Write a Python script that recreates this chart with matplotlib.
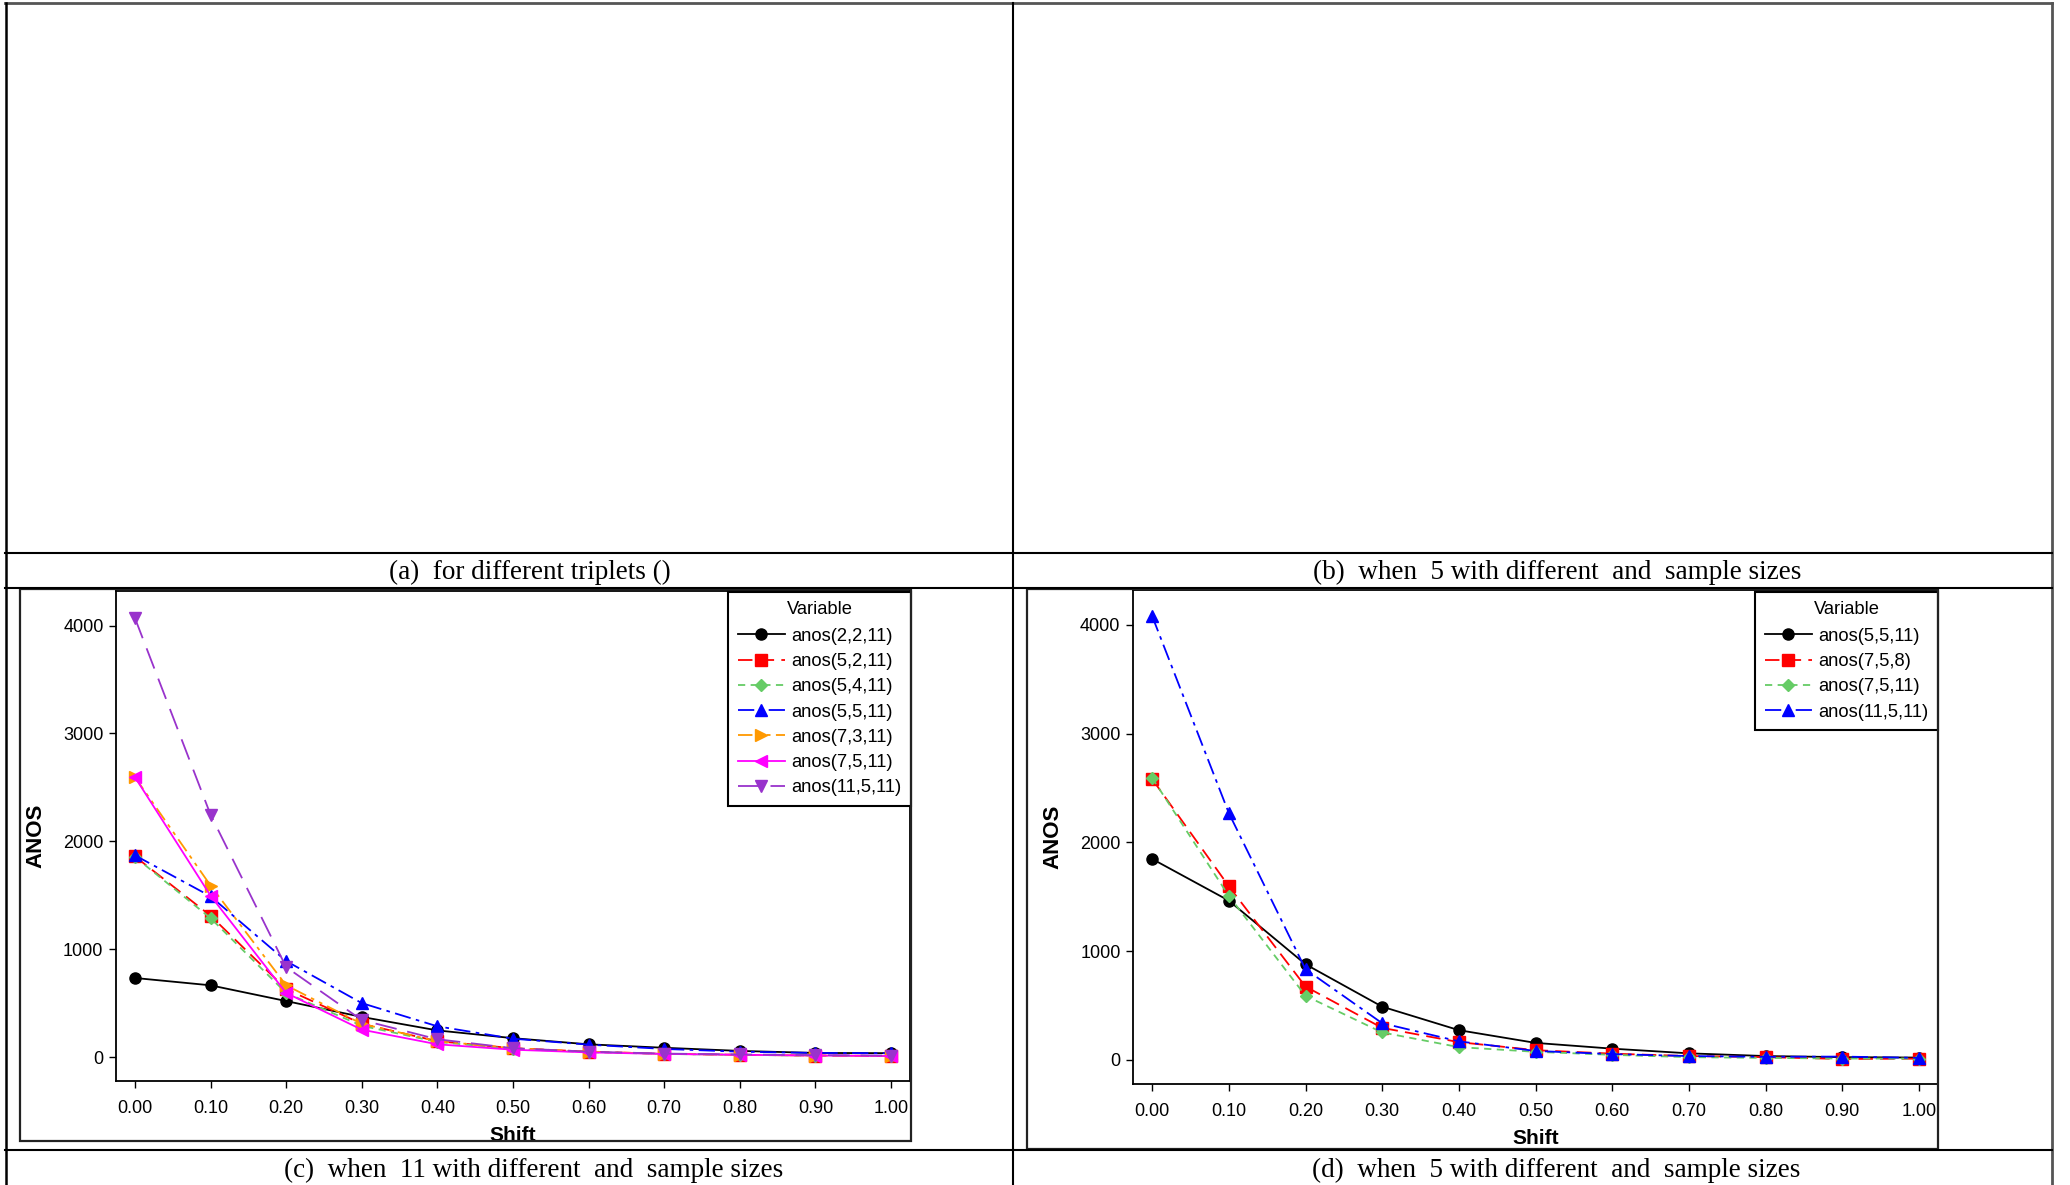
import matplotlib
matplotlib.use("Agg")
import matplotlib.pyplot as plt
from matplotlib.lines import Line2D
from matplotlib.patches import Rectangle

# Shift values shared by both panels
shift = [0.0, 0.1, 0.2, 0.3, 0.4, 0.5, 0.6, 0.7, 0.8, 0.9, 1.0]

# Panel (c) series
c_labels = ["anos(2,2,11)", "anos(5,2,11)", "anos(5,4,11)", "anos(5,5,11)",
            "anos(7,3,11)", "anos(7,5,11)", "anos(11,5,11)"]
anos_2_2_11 = [733, 665, 519, 372, 247, 175, 118, 86, 57, 38, 36]
anos_5_2_11 = [1860, 1310, 630, 308, 147, 82, 50, 30, 21, 14, 10]
anos_5_4_11 = [1855, 1288, 594, 290, 140, 75, 46, 29, 20, 13, 10]
anos_5_5_11 = [1870, 1490, 890, 500, 285, 170, 115, 75, 50, 38, 36]
anos_7_3_11 = [2595, 1590, 665, 308, 147, 82, 50, 30, 21, 14, 10]
anos_7_5_11 = [2595, 1496, 594, 254, 118, 68, 43, 29, 21, 14, 10]
anos_11_5_11 = [4070, 2247, 834, 343, 165, 82, 50, 32, 24, 18, 14]

# Panel (d) series
d_labels = ["anos(5,5,11)", "anos(7,5,8)", "anos(7,5,11)", "anos(11,5,11)"]
d_5_5_11 = [1847, 1464, 879, 489, 273, 156, 103, 60, 35, 25, 21]
d_7_5_8 = [2582, 1596, 674, 294, 163, 89, 57, 35, 25, 8, 11]
d_7_5_11 = [2592, 1507, 589, 252, 117, 74, 46, 25, 18, 12, 12]
d_11_5_11 = [4080, 2269, 833, 337, 170, 82, 53, 35, 28, 30, 18]

captions = ["(a)  for different triplets ()",
            "(b)  when  5 with different  and  sample sizes",
            "(c)  when  11 with different  and  sample sizes",
            "(d)  when  5 with different  and  sample sizes"]

W, H = 2070, 1185
plt.rcParams['font.family'] = ['Liberation Sans', 'DejaVu Sans']

fig = plt.figure(figsize=(W / 100, H / 100), dpi=100)


def fx(x):
    return x / W


def fy(y):
    return 1 - y / H


def hline(y, x0, x1, color='black', lw=1.5):
    fig.add_artist(Line2D([fx(x0), fx(x1)], [fy(y), fy(y)], color=color,
                          lw=lw, transform=fig.transFigure))


def vline(x, y0, y1, color='black', lw=1.5):
    fig.add_artist(Line2D([fx(x), fx(x)], [fy(y0), fy(y1)], color=color,
                          lw=lw, transform=fig.transFigure))


def frame(x0, y0, x1, y1):
    fig.add_artist(Rectangle((fx(x0), fy(y1)), fx(x1) - fx(x0), fy(y0) - fy(y1),
                             fill=False, edgecolor='#222222', lw=1.6,
                             transform=fig.transFigure))


# table grid
hline(3, 5, 2052, color='#555555', lw=2.0)
vline(5.5, 3, 1185, lw=1.8)
vline(2052, 3, 1185, color='#555555', lw=2.0)
vline(1013, 3, 1185, lw=1.5)
hline(553, 5, 2052)
hline(588, 5, 2052)
hline(1150, 5, 2052)

# captions
for txt, cx, cy in zip(captions, [530, 1557, 534, 1556], [572, 572, 1170, 1170]):
    fig.text(fx(cx), fy(cy), txt, ha='center', va='center',
             family=['Liberation Serif', 'DejaVu Serif'], fontsize=19.5)

# panel frames
frame(20, 589, 911, 1141)
frame(1027, 589, 1938, 1149)

styles_c = [
    dict(color='black', ls='-', marker='o'),
    dict(color='#ff0000', ls=(0, (8, 4)), marker='s'),
    dict(color='#66cc66', ls=(0, (4, 3)), marker='D'),
    dict(color='#0000ff', ls=(0, (9, 3, 2, 3)), marker='^'),
    dict(color='#ff9900', ls=(0, (8, 3, 2, 3, 2, 3)), marker='>'),
    dict(color='#ff00ff', ls='-', marker='<'),
    dict(color='#9933cc', ls=(0, (12, 6)), marker='v'),
]
styles_d = [
    dict(color='black', ls='-', marker='o'),
    dict(color='#ff0000', ls=(0, (8, 4)), marker='s'),
    dict(color='#66cc66', ls=(0, (4, 3)), marker='D'),
    dict(color='#0000ff', ls=(0, (9, 3, 2, 3)), marker='^'),
]


def panel(box, series, labels, styles, legend_corner):
    x0, y0, x1, y1 = box
    ax = fig.add_axes([fx(x0), fy(y1), fx(x1) - fx(x0), fy(y0) - fy(y1)])
    for ys, lab, st in zip(series, labels, styles):
        ms = 6.5 if st['marker'] == 'D' else 8
        ax.plot(shift, ys, label=lab, lw=1.3, ms=ms, **st)
    ax.set_xlim(-0.025, 1.025)
    ax.set_ylim(-222, 4320)
    ax.set_xticks(shift)
    ax.set_xticklabels([f"{v:.2f}" for v in shift])
    ax.set_yticks([0, 1000, 2000, 3000, 4000])
    ax.tick_params(direction='out', length=5, width=1, labelsize=13)
    ax.tick_params(axis='x', pad=8.5)
    ax.tick_params(axis='y', pad=4)
    for s in ax.spines.values():
        s.set_linewidth(1.3)
    ax.set_xlabel("Shift", fontsize=15, fontweight='bold', labelpad=7)
    ax.set_ylabel("ANOS", fontsize=16, fontweight='bold', labelpad=12)
    lx, ly = legend_corner
    leg = ax.legend(title="Variable", loc='upper right',
                    bbox_to_anchor=(fx(lx), fy(ly)), bbox_transform=fig.transFigure,
                    borderaxespad=0, fontsize=13.2, title_fontsize=13.2,
                    handlelength=2.6, handletextpad=0.35, labelspacing=0.45,
                    borderpad=0.5, fancybox=False, framealpha=1,
                    edgecolor='black')
    leg.get_frame().set_linewidth(1.5)
    leg._legend_box.sep = 7
    return ax


panel((116, 591, 910, 1081),
      [anos_2_2_11, anos_5_2_11, anos_5_4_11, anos_5_5_11,
       anos_7_3_11, anos_7_5_11, anos_11_5_11],
      c_labels, styles_c, (911, 592))

panel((1133, 590, 1938, 1084),
      [d_5_5_11, d_7_5_8, d_7_5_11, d_11_5_11],
      d_labels, styles_d, (1938, 592))

fig.savefig("out.png", dpi=100)
